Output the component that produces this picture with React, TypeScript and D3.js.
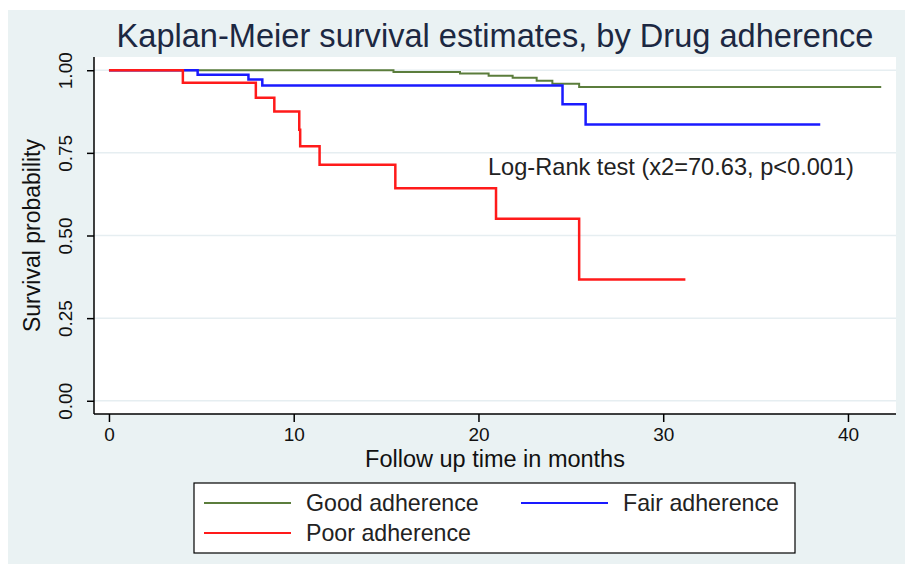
import React, { useEffect, useRef } from 'react';
import * as d3 from 'd3';

// Kaplan-Meier step data (months, survival)
const goodTimes = [0, 15.4, 19.0, 20.55, 21.85, 23.15, 24.0, 25.45, 41.8];
const goodSurv = [1, 0.995, 0.99, 0.983, 0.977, 0.968, 0.959, 0.949, 0.949];

const fairTimes = [0, 4.8, 7.55, 8.3, 24.55, 25.8, 38.5];
const fairSurv = [1, 0.986, 0.972, 0.954, 0.897, 0.836, 0.836];

const poorTimes = [0, 4.0, 7.95, 8.95, 10.3, 10.35, 11.4, 15.5, 20.95, 25.45, 31.2];
const poorSurv = [1, 0.962, 0.917, 0.875, 0.82, 0.77, 0.714, 0.643, 0.551, 0.367, 0.367];

const seriesNames = ['Good adherence', 'Fair adherence', 'Poor adherence'];
const seriesColors = ['#5b7d3c', '#1a1aff', '#ff1a1a'];

const xTicks = [0, 10, 20, 30, 40];
const yTicks = [0, 0.25, 0.5, 0.75, 1];

const title = 'Kaplan-Meier survival estimates, by Drug adherence';
const xTitle = 'Follow up time in months';
const yTitle = 'Survival probability';
const testNote = 'Log-Rank test (x2=70.63, p<0.001)';

const FONT = '"Liberation Sans", Arial, sans-serif';

const App = () => {
    const svgRef = useRef(null);

    useEffect(() => {
        const svg = d3.select(svgRef.current);
        svg.selectAll('*').remove();

        const W = 905;
        const H = 564;
        const plot = { left: 94, right: 896, top: 57, bottom: 414 };

        // graph region background
        svg.append('rect')
            .attr('x', 8).attr('y', 10)
            .attr('width', W - 8).attr('height', H - 10)
            .attr('fill', '#eaf2f3');

        // plot region
        svg.append('rect')
            .attr('x', plot.left).attr('y', plot.top)
            .attr('width', plot.right - plot.left)
            .attr('height', plot.bottom - plot.top)
            .attr('fill', '#ffffff');

        const x = d3.scaleLinear().domain([-0.81, 42.6]).range([plot.left, plot.right]);
        const y = d3.scaleLinear().domain([-0.04, 1.04]).range([plot.bottom, plot.top]);

        // grid lines
        svg.append('g')
            .selectAll('line')
            .data(yTicks)
            .join('line')
            .attr('x1', plot.left).attr('x2', plot.right)
            .attr('y1', d => y(d)).attr('y2', d => y(d))
            .attr('stroke', '#e6eef1')
            .attr('stroke-width', 1.5);

        // title
        svg.append('text')
            .attr('x', (plot.left + plot.right) / 2)
            .attr('y', 47)
            .attr('text-anchor', 'middle')
            .attr('font-family', FONT)
            .attr('font-size', 32.6)
            .attr('fill', '#1c2842')
            .text(title);

        // axes
        const xAxis = svg.append('g')
            .attr('transform', `translate(0,${plot.bottom})`)
            .call(d3.axisBottom(x).tickValues(xTicks).tickSize(8).tickPadding(6).tickSizeOuter(0));
        xAxis.select('.domain').attr('stroke', '#000').attr('stroke-width', 1.5)
            .attr('d', `M${plot.left},0H${plot.right}`);
        xAxis.selectAll('.tick line').attr('stroke', '#000').attr('stroke-width', 1.5);
        xAxis.selectAll('.tick text')
            .attr('font-family', FONT).attr('font-size', 19).attr('fill', '#111');

        const yAxis = svg.append('g')
            .attr('transform', `translate(${plot.left},0)`)
            .call(d3.axisLeft(y).tickValues(yTicks).tickSize(7).tickFormat(d3.format('.2f')).tickSizeOuter(0));
        yAxis.select('.domain').attr('stroke', '#000').attr('stroke-width', 1.5)
            .attr('d', `M0,${plot.top}V${plot.bottom}`);
        yAxis.selectAll('.tick line').attr('stroke', '#000').attr('stroke-width', 1.5);
        yAxis.selectAll('.tick text')
            .attr('font-family', FONT).attr('font-size', 19).attr('fill', '#111')
            .attr('x', null).attr('dy', null)
            .attr('text-anchor', 'middle')
            .attr('dominant-baseline', 'central')
            .attr('transform', 'translate(-29,0) rotate(-90)');

        // axis titles
        svg.append('text')
            .attr('x', (plot.left + plot.right) / 2)
            .attr('y', 467)
            .attr('text-anchor', 'middle')
            .attr('font-family', FONT).attr('font-size', 23.5).attr('fill', '#111')
            .text(xTitle);

        svg.append('text')
            .attr('transform', `translate(32,${(plot.top + plot.bottom) / 2}) rotate(-90)`)
            .attr('text-anchor', 'middle')
            .attr('dominant-baseline', 'central')
            .attr('font-family', FONT).attr('font-size', 23).attr('fill', '#111')
            .text(yTitle);

        // survival curves
        const line = d3.line()
            .x(d => x(d[0]))
            .y(d => y(d[1]))
            .curve(d3.curveStepAfter);

        const curves = [
            { pts: d3.zip(goodTimes, goodSurv), color: seriesColors[0], w: 2 },
            { pts: d3.zip(fairTimes, fairSurv), color: seriesColors[1], w: 2.5 },
            { pts: d3.zip(poorTimes, poorSurv), color: seriesColors[2], w: 2.5 },
        ];
        curves.forEach(c => {
            svg.append('path')
                .datum(c.pts)
                .attr('fill', 'none')
                .attr('stroke', c.color)
                .attr('stroke-width', c.w)
                .attr('d', line);
        });

        // log-rank note
        svg.append('text')
            .attr('x', 488).attr('y', 175)
            .attr('font-family', FONT).attr('font-size', 23.6).attr('fill', '#222')
            .text(testNote);

        // legend
        const lg = svg.append('g');
        lg.append('rect')
            .attr('x', 194).attr('y', 483)
            .attr('width', 601).attr('height', 70)
            .attr('fill', '#fff').attr('stroke', '#000').attr('stroke-width', 1.2);

        const legendPos = [
            { lx: 204, ty: 503 },
            { lx: 521, ty: 503 },
            { lx: 204, ty: 533 },
        ];
        seriesNames.forEach((name, i) => {
            const p = legendPos[i];
            lg.append('line')
                .attr('x1', p.lx).attr('x2', p.lx + 87)
                .attr('y1', p.ty).attr('y2', p.ty)
                .attr('stroke', seriesColors[i]).attr('stroke-width', 2);
            lg.append('text')
                .attr('x', p.lx + 102).attr('y', p.ty)
                .attr('dominant-baseline', 'central')
                .attr('font-family', FONT).attr('font-size', 23.2).attr('fill', '#222')
                .text(name);
        });
    }, []);

    return (
        <svg ref={svgRef} width="905" height="564"
            style={{ position: 'absolute', left: 0, top: 0, background: '#fff' }}></svg>
    );
};

export default App;
